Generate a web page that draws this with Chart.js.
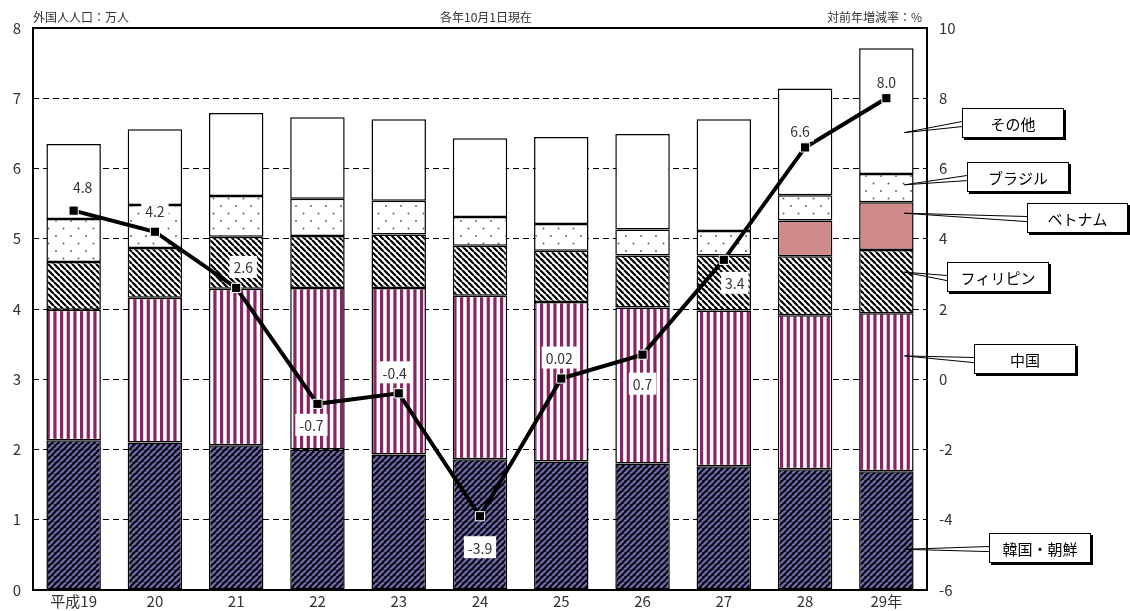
<!DOCTYPE html>
<html lang="ja">
<head>
<meta charset="utf-8">
<title>外国人人口の推移</title>
<script src="https://cdn.jsdelivr.net/npm/chart.js@4/dist/chart.umd.min.js"></script>
<style>
  html, body { margin: 0; padding: 0; background: #ffffff; }
  #wrap { width: 1130px; height: 611px; }
</style>
</head>
<body>
<div id="wrap"><canvas id="foreignChart" width="1130" height="611"></canvas></div>
<script>
const years = ['平成19', '20', '21', '22', '23', '24', '25', '26', '27', '28', '29年'];

// 国籍別 外国人人口（万人）
const korea       = [2.13, 2.10, 2.06, 2.00, 1.93, 1.86, 1.83, 1.80, 1.76, 1.72, 1.69];
const china       = [1.86, 2.06, 2.23, 2.30, 2.37, 2.33, 2.27, 2.22, 2.22, 2.19, 2.25];
const philippines = [0.68, 0.71, 0.74, 0.74, 0.76, 0.71, 0.73, 0.74, 0.78, 0.84, 0.90];
const vietnam     = [null, null, null, null, null, null, null, null, null, 0.51, 0.68];
const brazil      = [0.61, 0.61, 0.58, 0.53, 0.48, 0.41, 0.38, 0.37, 0.35, 0.36, 0.40];
const others      = [1.07, 1.08, 1.18, 1.16, 1.16, 1.12, 1.24, 1.36, 1.59, 1.52, 1.79];

// 対前年増減率（%）
const growth       = [4.8, 4.2, 2.6, -0.7, -0.4, -3.9, 0.02, 0.7, 3.4, 6.6, 8.0];
const growthLabels = ['4.8', '4.2', '2.6', '-0.7', '-0.4', '-3.9', '0.02', '0.7', '3.4', '6.6', '8.0'];

const leftTicks  = [0, 1, 2, 3, 4, 5, 6, 7, 8];
const rightTicks = [-6, -4, -2, 0, 2, 4, 6, 8, 10];

// label placement relative to each point (layout only)
const labelOffsets = [[9, -24], [0, -21], [7, -21], [-6, 21], [-4, -21], [0, 31], [-2, -21], [0, 29], [11, 23], [-5, -17], [0, -17]];

const FONT = '"Noto Sans CJK JP", "Noto Sans", sans-serif';
const TEXT = '#333333';


function makeTile(w, h, draw) {
    const c = document.createElement('canvas');
    c.width = w;
    c.height = h;
    const ctx = c.getContext('2d');
    draw(ctx, w, h);
    return ctx.createPattern(c, 'repeat');
}

function diagonal(bg, fg, lw, rising) {
    return makeTile(6, 6, (ctx, s) => {
        ctx.fillStyle = bg;
        ctx.fillRect(0, 0, s, s);
        ctx.strokeStyle = fg;
        ctx.lineWidth = lw;
        ctx.beginPath();
        for (const k of [-s, 0, s]) {
            if (rising) {
                ctx.moveTo(k, s);
                ctx.lineTo(k + s, 0);
            } else {
                ctx.moveTo(k, 0);
                ctx.lineTo(k + s, s);
            }
        }
        ctx.stroke();
    });
}

const koreaFill = diagonal('#000000', '#6a66a8', 2.4, true);
const philFill = diagonal('#ffffff', '#000000', 2.2, false);
const chinaFill = makeTile(20, 4, (ctx) => {
    ctx.fillStyle = '#ffffff';
    ctx.fillRect(0, 0, 20, 4);
    ctx.fillStyle = '#8a2466';
    for (let i = 0; i < 3; i++) ctx.fillRect(i * 20 / 3, 0, 3.2, 4);
});
const brazilFill = makeTile(15, 15, (ctx) => {
    ctx.fillStyle = '#ffffff';
    ctx.fillRect(0, 0, 15, 15);
    ctx.fillStyle = '#666666';
    ctx.beginPath();
    ctx.arc(3.5, 3.5, 1, 0, Math.PI * 2);
    ctx.arc(11, 11, 1, 0, Math.PI * 2);
    ctx.fill();
});

function barSet(label, data, fill) {
    return {
        type: 'bar',
        label: label,
        data: data,
        backgroundColor: fill,
        borderColor: '#000000',
        borderWidth: 1.5,
        borderSkipped: false,
        yAxisID: 'y',
        stack: 'pop',
        order: 1,
        barPercentage: 0.67,
        categoryPercentage: 1.0
    };
}

const callouts = [
    { text: 'その他',     ds: 5, frac: 0.67, box: [962, 108, 102, 30] },
    { text: 'ブラジル',   ds: 4, frac: 0.38, box: [967, 162, 102, 30] },
    { text: 'ベトナム',   ds: 3, frac: 0.23, box: [1027, 203, 101, 30] },
    { text: 'フィリピン', ds: 2, frac: 0.35, box: [947, 262, 102, 30] },
    { text: '中国',       ds: 1, frac: 0.27, box: [974, 344, 102, 30] },
    { text: '韓国・朝鮮', ds: 0, frac: 0.66, box: [989, 533, 102, 30] }
];

const decorPlugin = {
    id: 'decor',
    afterDatasetsDraw(chart) {
        const ctx = chart.ctx;
        const a = chart.chartArea;
        ctx.save();

        // plot frame
        ctx.strokeStyle = '#000000';
        ctx.lineWidth = 2;
        ctx.strokeRect(a.left, a.top, a.right - a.left, a.bottom - a.top);

        // headers
        ctx.fillStyle = TEXT;
        ctx.font = '12px ' + FONT;
        ctx.textBaseline = 'middle';
        ctx.textAlign = 'left';
        ctx.fillText('外国人人口：万人', a.left, 17);
        ctx.textAlign = 'center';
        ctx.fillText('各年10月1日現在', 486, 17);
        ctx.textAlign = 'right';
        ctx.fillText('対前年増減率：%', a.right - 5, 17);

        // growth rate labels
        const lineMeta = chart.getDatasetMeta(6);
        ctx.font = '14px ' + FONT;
        ctx.textAlign = 'center';
        lineMeta.data.forEach((pt, i) => {
            const cx = pt.x + labelOffsets[i][0];
            const cy = pt.y + labelOffsets[i][1];
            const w = ctx.measureText(growthLabels[i]).width + 8;
            ctx.fillStyle = '#ffffff';
            ctx.fillRect(cx - w / 2, cy - 11, w, 22);
            ctx.fillStyle = TEXT;
            ctx.fillText(growthLabels[i], cx, cy + 1);
        });

        // callouts pointing into the last bar
        const last = years.length - 1;
        ctx.font = '15px ' + FONT;
        callouts.forEach(c => {
            const bar = chart.getDatasetMeta(c.ds).data[last];
            const tipX = bar.x + 18;
            const top = Math.min(bar.y, bar.base);
            const bot = Math.max(bar.y, bar.base);
            const tipY = top + (bot - top) * c.frac;
            const [bx, by, bw, bh] = c.box;

            ctx.strokeStyle = '#000000';
            ctx.lineWidth = 1;
            ctx.beginPath();
            ctx.moveTo(tipX, tipY);
            ctx.lineTo(bx, by + bh * 0.45);
            ctx.moveTo(tipX, tipY);
            ctx.lineTo(bx, by + bh * 0.62);
            ctx.stroke();

            // shadow
            ctx.fillStyle = '#000000';
            ctx.fillRect(bx + 2, by + 2, bw, bh);
            ctx.fillStyle = '#ffffff';
            ctx.fillRect(bx, by, bw, bh);
            ctx.strokeRect(bx + 0.5, by + 0.5, bw - 1, bh - 1);

            ctx.fillStyle = '#000000';
            ctx.textAlign = 'center';
            ctx.fillText(c.text, bx + bw / 2, by + bh / 2 + 1);
        });

        ctx.restore();
    }
};

function createForeignChart() {
    const ctx = document.getElementById('foreignChart').getContext('2d');

    const config = {
        data: {
            labels: years,
            datasets: [
                barSet('韓国・朝鮮', korea, koreaFill),
                barSet('中国', china, chinaFill),
                barSet('フィリピン', philippines, philFill),
                barSet('ベトナム', vietnam, '#cf8b89'),
                barSet('ブラジル', brazil, brazilFill),
                barSet('その他', others, '#ffffff'),
                {
                    type: 'line',
                    label: '対前年増減率',
                    data: growth,
                    yAxisID: 'y2',
                    borderColor: '#000000',
                    borderWidth: 4,
                    tension: 0,
                    pointStyle: 'rect',
                    pointRadius: 6.5,
                    pointBackgroundColor: '#000000',
                    pointBorderColor: '#ffffff',
                    pointBorderWidth: 1,
                    order: 0
                }
            ]
        },
        options: {
            responsive: false,
            animation: false,
            layout: { padding: { top: 28, left: 0, right: 0, bottom: 0 } },
            plugins: {
                legend: { display: false },
                tooltip: { enabled: false },
                title: { display: false }
            },
            scales: {
                x: {
                    stacked: true,
                    grid: { display: false },
                    border: { display: false },
                    ticks: { color: TEXT, font: { family: FONT, size: 15, lineHeight: 1 }, padding: -4, maxRotation: 0 },
                    afterFit: (s) => { s.height = 20; }
                },
                y: {
                    position: 'left',
                    stacked: true,
                    min: leftTicks[0],
                    max: leftTicks[leftTicks.length - 1],
                    afterBuildTicks: (s) => { s.ticks = leftTicks.map(v => ({ value: v })); },
                    grid: { color: '#000000', lineWidth: 1, drawTicks: false },
                    border: { display: false, dash: [6, 4] },
                    ticks: { color: TEXT, font: { family: FONT, size: 15 }, padding: 12 },
                    afterFit: (s) => { s.width = 33; }
                },
                y2: {
                    position: 'right',
                    min: rightTicks[0],
                    max: rightTicks[rightTicks.length - 1],
                    afterBuildTicks: (s) => { s.ticks = rightTicks.map(v => ({ value: v })); },
                    grid: { drawOnChartArea: false, drawTicks: false },
                    border: { display: false },
                    ticks: { color: TEXT, font: { family: FONT, size: 15 }, padding: 12 },
                    afterFit: (s) => { s.width = 203; }
                }
            }
        },
        plugins: [decorPlugin]
    };

    new Chart(ctx, config);
}

createForeignChart();
</script>
</body>
</html>
